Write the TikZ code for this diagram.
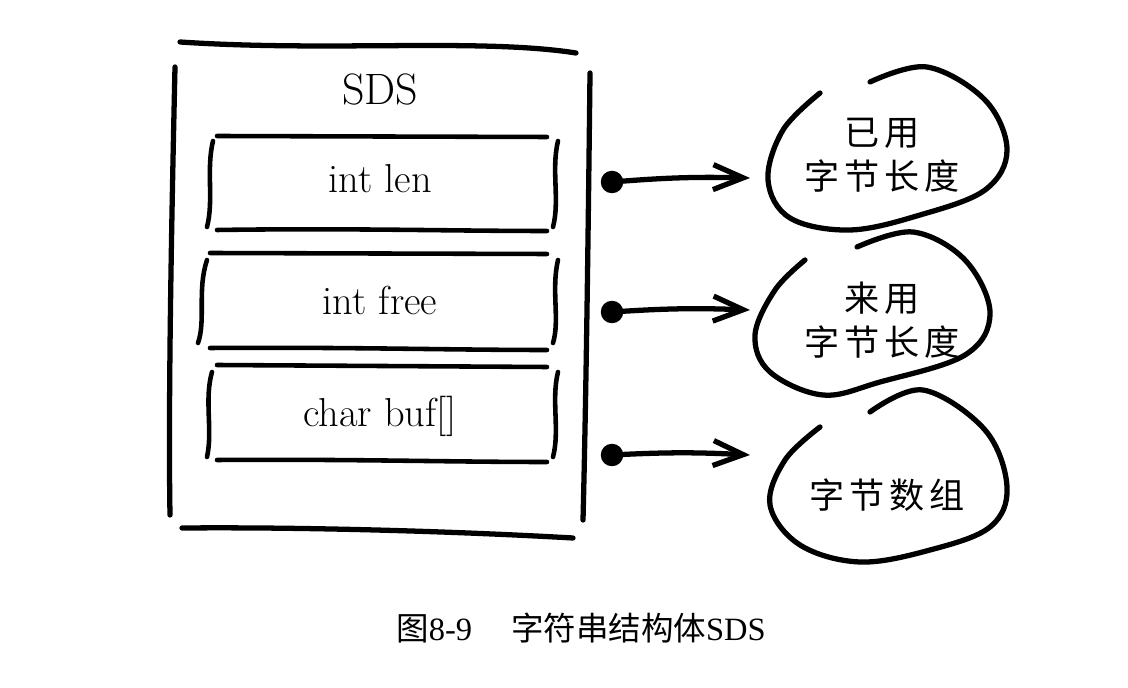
\documentclass[tikz,border=0pt]{standalone}
\usepackage{fontspec}
\usetikzlibrary{arrows.meta}
\newfontfamily\cjk{Noto Sans CJK SC}
\newfontfamily\handcjk[LetterSpace=14]{Noto Sans CJK SC}
\newfontfamily\capserif{Liberation Serif}

\begin{document}
\begin{tikzpicture}[x=0.02cm, y=-0.02cm,
    pen/.style={line width=3pt, line cap=round},
    thinpen/.style={line width=2.6pt, line cap=round},
    field/.style={anchor=base, inner sep=0pt, font=\fontsize{23pt}{27pt}\selectfont},
    blobtext/.style={align=center, inner sep=0pt, font=\handcjk\fontsize{20pt}{25pt}\selectfont},
    ptr/.style={circle, fill, inner sep=0pt, minimum size=0.45cm},
    arr/.style={pen, -{Straight Barb[length=0.6cm, width=0.5cm]}}]
    \useasboundingbox (0,0) rectangle (1128,688);

    \draw[pen] (180,42) .. controls (330,52) and (480,38) .. (576,53);
    \draw[pen] (175,67) .. controls (172,200) and (168,400) .. (170,515);
    \draw[pen] (590,73) .. controls (588,250) and (586,400) .. (583,520);
    \draw[pen] (182,528) .. controls (300,527) and (450,531) .. (573,538);
    \node[field, font=\fontsize{25pt}{29pt}\selectfont] (sds) at (380,105) {SDS};

    \draw[thinpen] (217,136) -- (547,137);
    \draw[thinpen] (217,230) .. controls (350,228) and (450,231) .. (547,231);
    \draw[thinpen] (213,141) .. controls (206,170) and (214,200) .. (207,227);
    \draw[thinpen] (558,141) .. controls (551,170) and (560,200) .. (553,227);
    \node[field] (len) at (380,193) {int len};

    \draw[thinpen] (210,253) -- (547,254);
    \draw[thinpen] (210,348) .. controls (350,347) and (450,350) .. (547,350);
    \draw[thinpen] (207,260) .. controls (197,290) and (206,320) .. (198,343);
    \draw[thinpen] (558,260) .. controls (551,290) and (560,320) .. (553,343);
    \node[field] (free) at (380,315) {int free};

    \draw[thinpen] (217,365) -- (547,367);
    \draw[thinpen] (217,460) .. controls (350,459) and (450,462) .. (547,462);
    \draw[thinpen] (212,372) .. controls (204,400) and (213,430) .. (207,457);
    \draw[thinpen] (558,372) .. controls (551,400) and (560,430) .. (553,457);
    \node[field] (buf) at (380,427) {char buf[]};

    \node[ptr] (p1) at (612,182) {};
    \node[ptr] (p2) at (612,312) {};
    \node[ptr] (p3) at (612,455) {};
    \coordinate (t1) at (750,178);
    \coordinate (t2) at (750,310);
    \coordinate (t3) at (750,455);
    \draw[arr] (p1.center) to[bend left=3] (t1);
    \draw[arr] (p2.center) to[bend left=3] (t2);
    \draw[arr] (p3.center) to[bend left=3] (t3);

    \draw[pen] plot[smooth, tension=0.6] coordinates {(870,82) (927,67) (985,100) (1007,150) (985,190) (920,215) (850,230) (790,218) (768,180) (783,130) (820,93)};
    \draw[pen] plot[smooth, tension=0.6] coordinates {(857,247) (913,232) (965,260) (990,313) (965,355) (880,382) (823,395) (770,372) (755,335) (775,290) (805,260)};
    \draw[pen] plot[smooth, tension=0.6] coordinates {(870,412) (923,390) (985,430) (1007,487) (990,527) (930,550) (860,562) (800,545) (770,505) (785,460) (820,427)};
    \node[blobtext] (used) at (882,155) {已用\\字节长度};
    \node[blobtext] (unused) at (882,320) {来用\\字节长度};
    \node[blobtext] (bytes) at (887,495) {字节数组};

    \node[font=\fontsize{18.5pt}{21pt}\selectfont] (cap) at (581,628) {\cjk 图\capserif 8-9\hspace{1.2em}\cjk 字符串结构体\capserif SDS};
\end{tikzpicture}
\end{document}
